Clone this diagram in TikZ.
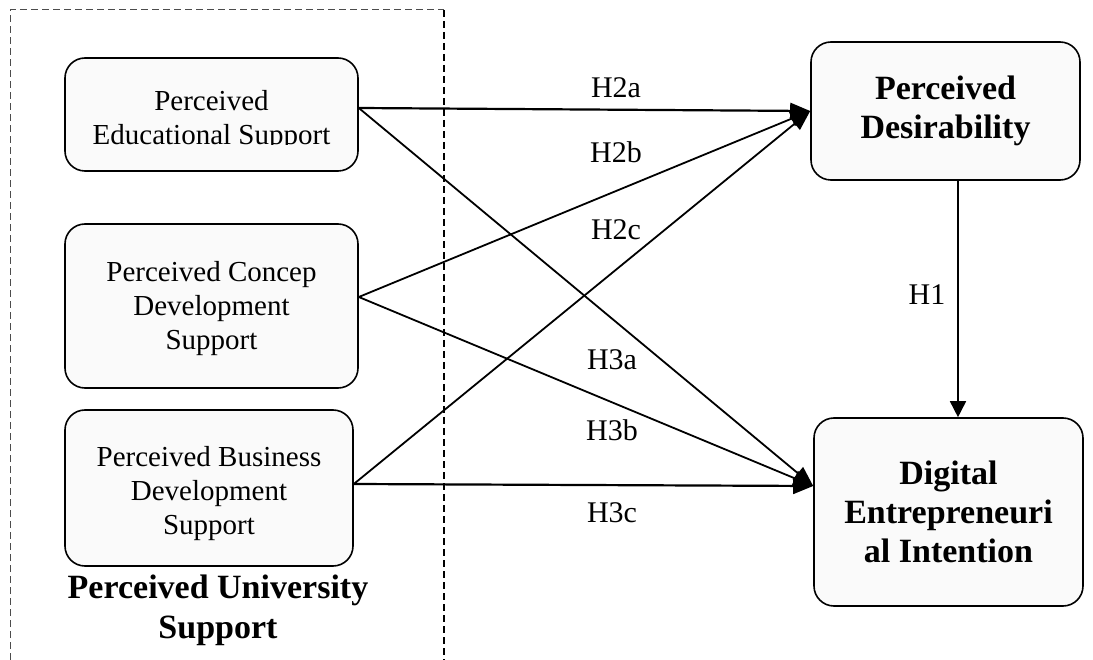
\documentclass[tikz,border=0pt]{standalone}
\usepackage{fontspec}
\setmainfont{Liberation Serif}
\usetikzlibrary{arrows.meta}
\tikzset{
  box/.style={draw=black, line width=1.6pt, rounded corners=20pt, fill=black!2, align=center, inner sep=0pt},
  srcbox/.style={box, font=\fontsize{29}{34}\selectfont},
  srctext/.style={align=center, inner sep=0pt, font=\fontsize{29}{34}\selectfont},
  tgtbox/.style={box, font=\fontsize{34}{39}\selectfont\bfseries},
  hyp/.style={font=\fontsize{30}{34}\selectfont, inner sep=0pt},
  conn/.style={draw=black, line width=1.8pt, -{Triangle[length=20pt,width=16pt]}},
  frameline/.style={dash pattern=on 7pt off 4pt},
}
\begin{document}
\begin{tikzpicture}[x=1pt,y=-1pt]
\useasboundingbox (0,0) rectangle (1093,660);
% dashed frame
\draw[frameline, black!70, line width=1pt] (10,660) -- (10,10) -- (444,10);
\draw[frameline, black, line width=1.6pt] (444,10) -- (444,660);
% source boxes
\node[srcbox, minimum width=293pt, minimum height=113pt] (b1) at (211.5,114.5) {};
\begin{scope}
  \clip (70,60) rectangle (355,145);
  \node[srctext] (b1t) at (211.5,121) {Perceived\\Educational Support};
\end{scope}
\node[srcbox, minimum width=293pt, minimum height=164pt] (b2) at (211.5,306) {};
\node[srctext] (b2t) at (211.5,309) {Perceived Concep\\Development\\Support};
\node[srcbox, minimum width=288pt, minimum height=156pt] (b3) at (209,488) {};
\node[srctext] (b3t) at (209,494) {Perceived Business\\Development\\Support};
\node[font=\fontsize{34}{40}\selectfont\bfseries, align=center, inner sep=0pt] (pus) at (218,610) {Perceived University\\Support};
% target boxes
\node[tgtbox, minimum width=269pt, minimum height=138pt] (pd) at (945.5,111) {Perceived\\Desirability};
\node[tgtbox, minimum width=269pt, minimum height=188pt] (dei) at (948.5,512) {Digital\\Entrepreneuri\\al Intention};
% anchor points
\coordinate (o1) at ([yshift=6.5pt]b1.east);
\coordinate (o2) at ([yshift=9pt]b2.east);
\coordinate (o3) at ([yshift=4pt]b3.east);
\coordinate (t2) at (pd.west);
\coordinate (t3) at ([yshift=26pt]dei.west);
\coordinate (h1s) at ([xshift=12.5pt]pd.south);
% connectors
\draw[conn, line width=2.2pt] (o1) -- (t2);
\draw[conn] (o2) -- (t2);
\draw[conn] (o3) -- (t2);
\draw[conn] (o1) -- (t3);
\draw[conn] (o2) -- (t3);
\draw[conn, line width=2.2pt] (o3) -- (t3);
\draw[draw=black, line width=1.6pt, -{Triangle[length=16pt,width=16pt]}] (h1s) -- (h1s |- dei.north);
% hypothesis labels
\node[hyp] (l2a) at (616,88) {H2a};
\node[hyp] (l2b) at (616,152) {H2b};
\node[hyp] (l2c) at (616,230) {H2c};
\node[hyp] (l1) at (927,295) {H1};
\node[hyp] (l3a) at (612,360) {H3a};
\node[hyp] (l3b) at (612,430) {H3b};
\node[hyp] (l3c) at (612,513) {H3c};
\end{tikzpicture}
\end{document}
